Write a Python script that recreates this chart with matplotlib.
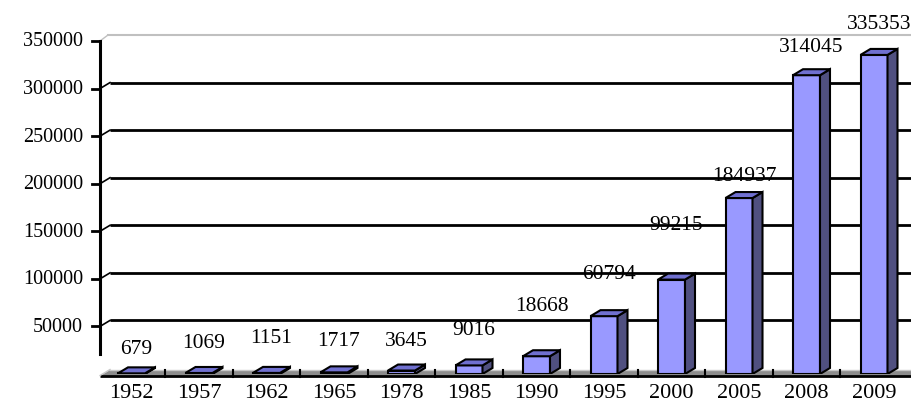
import numpy as np
import matplotlib.pyplot as plt
from matplotlib.patches import Polygon

plt.rcParams['font.family'] = ['Liberation Serif', 'DejaVu Serif']

years = ['1952', '1957', '1962', '1965', '1978', '1985', '1990',
         '1995', '2000', '2005', '2008', '2009']
values = [679, 1069, 1151, 1717, 3645, 9016, 18668,
          60794, 99215, 184937, 314045, 335353]
yticks = [50000, 100000, 150000, 200000, 250000, 300000, 350000]
ytick_labels = ['50000', '100000', '150000', '200000', '250000', '300000', '350000']

# how far above each bar top the value label sits (pixels)
label_rise = [25, 30, 35, 32, 30, 36, 51, 43, 55, 23, 29, 31]

W, H = 911, 402
fig = plt.figure(figsize=(W / 100, H / 100), dpi=100)
# axes box in pixels: x 100..911, y 42 (350000) .. 375 (0)
ax = fig.add_axes([100 / W, (H - 375) / H, 811 / W, 333 / H])
xmin = (100 - 131.5) / 67.5
xmax = (911 - 131.5) / 67.5
ymax = 350000
ax.set_xlim(xmin, xmax)
ax.set_ylim(0, ymax)
ax.axis('off')

px_x = (xmax - xmin) / 811.0   # data units per pixel
px_y = ymax / 333.0
dx = 10 * px_x                 # depth of the 3d effect
dy = 6 * px_y
w = 27 * px_x

x = np.arange(len(years))

# floor
f0 = -1.5 * px_y
floor = Polygon([(xmin, f0), (xmax, f0), (xmax, f0 + dy), (xmin + dx, f0 + dy)],
                closed=True, facecolor='#8c8c8c', edgecolor='none',
                zorder=1, clip_on=False)
ax.add_patch(floor)
ax.plot([xmin + dx, xmax], [f0 + dy, f0 + dy], color='#c8c8c8', lw=1,
        zorder=1.1, clip_on=False)
ax.plot([xmin, xmax], [f0, f0], color='black', lw=2, zorder=1.2,
        clip_on=False, solid_capstyle='butt')
ax.plot([xmin, xmin + dx], [f0, f0 + dy], color='#c8c8c8', lw=1,
        zorder=1.2, clip_on=False)
for b in x[:-1] + 0.5:
    ax.plot([b, b], [f0 - px_y, f0 + dy], color='black', lw=1.5,
            zorder=1.3, clip_on=False)

# back wall gridlines
for t in yticks[:-1]:
    ax.plot([xmin + dx, xmax], [t + dy, t + dy], color='black', lw=2,
            zorder=2, clip_on=False, solid_capstyle='butt')
    ax.plot([xmin, xmin + dx], [t, t + dy], color='black', lw=1.2,
            zorder=2, clip_on=False)
ax.plot([xmin + dx * 0.8, xmax], [ymax + dy, ymax + dy], color='#c0c0c0',
        lw=1.5, zorder=2, clip_on=False)
ax.plot([xmin, xmin + dx * 0.8], [ymax, ymax + dy], color='#c0c0c0',
        lw=1, zorder=2, clip_on=False)

# y axis
ax.plot([xmin, xmin], [21000, ymax], color='black', lw=2.2, zorder=3,
        clip_on=False)
for t, lab in zip(yticks, ytick_labels):
    ax.plot([xmin - 8 * px_x, xmin], [t, t], color='black', lw=2, zorder=3,
            clip_on=False)
    ax.text(xmin - 17 * px_x, t, lab, ha='right', va='center', fontsize=14.5)

# bars
ax.bar(x, values, width=w, color='#9999ff', edgecolor='black', lw=1.5,
       zorder=4)
for xi, v in zip(x, values):
    l, r = xi - w / 2, xi + w / 2
    top = Polygon([(l, v), (r, v), (r + dx, v + dy), (l + dx, v + dy)],
                  closed=True, facecolor='#7070d0', edgecolor='black',
                  lw=1.5, zorder=4, joinstyle='miter')
    side = Polygon([(r, 0), (r + dx, dy), (r + dx, v + dy), (r, v)],
                   closed=True, facecolor='#505080', edgecolor='black',
                   lw=1.5, zorder=4, joinstyle='miter')
    ax.add_patch(side)
    ax.add_patch(top)

# value labels
for xi, v, rise in zip(x, values, label_rise):
    ax.text(xi + 5 * px_x, v + rise * px_y, str(v), ha='center', va='center',
            fontsize=15.5, zorder=5)

# category labels
for xi, yr in zip(x, years):
    ax.text(xi, -18.5 * px_y, yr, ha='center', va='center', fontsize=16)

fig.savefig('out.png', dpi=100)
